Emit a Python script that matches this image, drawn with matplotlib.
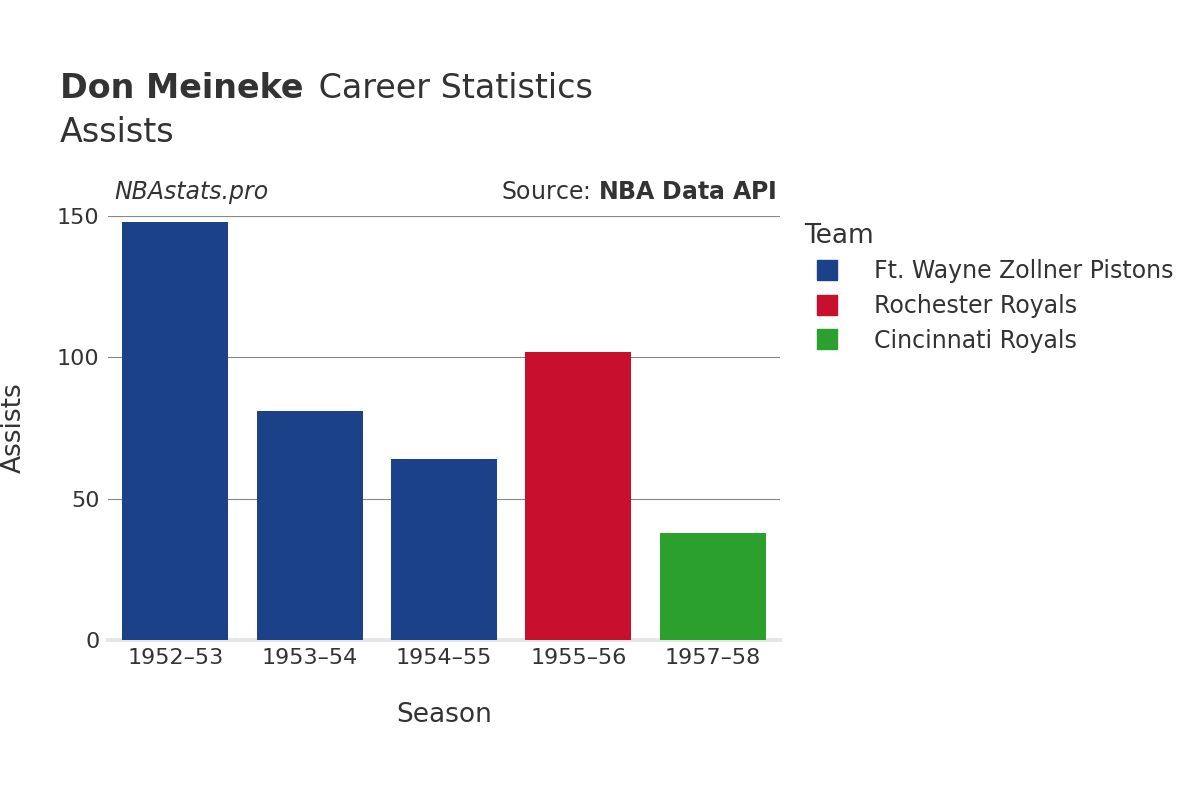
import matplotlib
matplotlib.use("Agg")
import matplotlib.pyplot as plt
from matplotlib.lines import Line2D

seasons = ["1952–53", "1953–54", "1954–55", "1955–56", "1957–58"]
assists = [148, 81, 64, 102, 38]
teams = ["Ft. Wayne Zollner Pistons", "Ft. Wayne Zollner Pistons", "Ft. Wayne Zollner Pistons", "Rochester Royals", "Cincinnati Royals"]
team_order = ["Ft. Wayne Zollner Pistons", "Rochester Royals", "Cincinnati Royals"]
team_colors = {"Ft. Wayne Zollner Pistons": "#1b4289", "Rochester Royals": "#c8102e", "Cincinnati Royals": "#2ca02c"}
yticks = [0, 50, 100, 150]

plt.rcParams["font.family"] = "DejaVu Sans"
fig = plt.figure(figsize=(12, 8), dpi=100)
ax = fig.add_axes([0.09, 0.2, 0.56, 0.53])
x = range(len(seasons))
ax.bar(x, assists, width=0.79, color=[team_colors[t] for t in teams], zorder=3)
ax.set_xlim(-0.5, len(seasons) - 0.5)
ax.set_ylim(0, 150)
ax.set_yticks(yticks)
ax.set_xticks(list(x))
ax.set_xticklabels(seasons)
ax.tick_params(axis="both", length=0, labelsize=16, colors="#333333", pad=6)
ax.yaxis.grid(True, color="#888888", linewidth=0.8, zorder=0)
for s in ["top", "right", "left"]:
    ax.spines[s].set_visible(False)
ax.spines["bottom"].set_color("#e6e6e6")
ax.spines["bottom"].set_linewidth(3)
ax.set_xlabel("Season", fontsize=19, color="#333333", labelpad=24)
ax.set_ylabel("Assists", fontsize=19, color="#333333", labelpad=22)

fig.text(0.05, 0.889, "Don Meineke", fontsize=24, fontweight="bold", color="#333333", va="center")
fig.text(0.257, 0.889, " Career Statistics", fontsize=24, color="#333333", va="center")
fig.text(0.05, 0.835, "Assists", fontsize=24, color="#333333", va="center")
fig.text(0.095, 0.76, "NBAstats.pro", fontsize=17, style="italic", color="#333333", va="center")
fig.text(0.647, 0.76, "Source: $\\bf{NBA\\ Data\\ API}$", fontsize=17, color="#333333", va="center", ha="right")

handles = [Line2D([0], [0], marker="s", linestyle="", markersize=15, color=team_colors[t]) for t in team_order]
leg = fig.legend(handles, team_order, loc="upper left", bbox_to_anchor=(0.652, 0.748), frameon=False,
                 fontsize=17, title="Team", title_fontsize=19, labelspacing=0.45, handletextpad=1.0, alignment="left")
for t in leg.get_texts():
    t.set_color("#333333")
leg.get_title().set_color("#333333")
fig.savefig("out.png")
